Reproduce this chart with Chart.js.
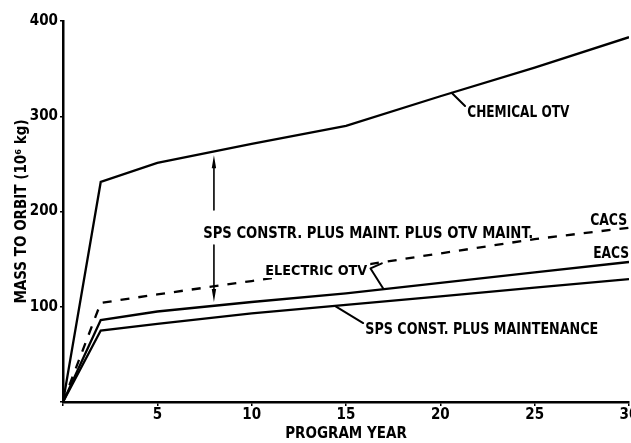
<!DOCTYPE html>
<html>
<head>
<meta charset="utf-8">
<script src="https://cdn.jsdelivr.net/npm/chart.js@4.4.1/dist/chart.umd.min.js"></script>
<style>
  html, body { margin: 0; padding: 0; background: #fff; overflow: hidden; }
  #wrap { width: 660px; height: 443px; position: relative; }
</style>
</head>
<body>
<div id="wrap"><canvas id="c" width="660" height="443"></canvas></div>
<script>
// ---- data ----
const years        = [0, 2, 5, 10, 15, 20, 25, 30];
const chemicalOTV  = [0, 231, 251, 271, 290, 321, 351, 383];
const cacs         = [0, 104, 113, 127, 141, 156, 171, 183];
const eacs         = [0, 86, 95, 105, 114, 125, 136, 147];
const spsConst     = [0, 75, 82, 93, 102, 111, 120, 129];
const xTickValues  = [5, 10, 15, 20, 25, 30];
const yTickValues  = [100, 200, 300, 400];

const FONT = '"Liberation Sans Narrow", "DejaVu Sans Condensed", "DejaVu Sans", sans-serif';
const pts = arr => years.map((x, i) => ({ x, y: arr[i] }));

function lineDs(label, arr, dash) {
  return {
    label, data: pts(arr), borderColor: '#000', borderWidth: 2.3,
    borderDash: dash || [], pointRadius: 0, tension: 0, fill: false
  };
}

// text fitted to a width, placed by its left/baseline
function fitText(ctx, text, xPx, yPx, w, size, knockout) {
  ctx.save();
  ctx.font = `bold ${size}px ${FONT}`;
  const m = ctx.measureText(text).width;
  if (knockout) {
    ctx.fillStyle = '#fff';
    ctx.fillRect(xPx - 3, yPx - size * 0.8 - 1, w + 6, size * 0.8 + 4);
  }
  ctx.translate(xPx, yPx);
  ctx.scale(w / m, 1);
  ctx.fillStyle = '#000';
  ctx.textBaseline = 'alphabetic';
  ctx.textAlign = 'left';
  ctx.fillText(text, 0, 0);
  ctx.restore();
}

const annot = {
  id: 'annot',
  afterDatasetsDraw(chart) {
    const { ctx, scales: { x, y } } = chart;
    const X = v => x.getPixelForValue(v), Y = v => y.getPixelForValue(v);
    ctx.save();
    ctx.strokeStyle = '#000';
    ctx.fillStyle = '#000';
    ctx.lineCap = 'round';
    ctx.lineJoin = 'round';

    // labels
    fitText(ctx, 'CHEMICAL OTV', X(21.43), Y(299.7), 102, 15);
    fitText(ctx, 'SPS CONSTR. PLUS MAINT. PLUS OTV MAINT.', X(7.43), Y(171.9), 330, 15);
    fitText(ctx, 'CACS', X(27.94), Y(185.8), 37, 15);
    fitText(ctx, 'EACS', X(28.1), Y(150.9), 36, 15);
    fitText(ctx, 'ELECTRIC OTV', X(10.72), Y(133.3), 102, 14, true);
    fitText(ctx, 'SPS CONST. PLUS MAINTENANCE', X(16.02), Y(71.9), 233, 15);

    // leader lines
    ctx.lineWidth = 2;
    const seg = (pairs) => {
      ctx.beginPath();
      pairs.forEach(([a, b], i) => i ? ctx.lineTo(X(a), Y(b)) : ctx.moveTo(X(a), Y(b)));
      ctx.stroke();
    };
    seg([[20.61, 324.5], [21.31, 310.8]]);
    seg([[16.9, 145.6], [16.3, 140.2], [16.97, 119.2]]);
    seg([[14.43, 100.6], [15.91, 82.9]]);

    // double-headed arrow between EACS and chemical curves
    ctx.lineWidth = 1.6;
    const ax = X(8);
    const topTip = Y(259), topEnd = Y(201.6), botStart = Y(164.8), botTip = Y(105);
    ctx.beginPath();
    ctx.moveTo(ax, topTip + 10); ctx.lineTo(ax, topEnd);
    ctx.moveTo(ax, botStart); ctx.lineTo(ax, botTip - 10);
    ctx.stroke();
    ctx.beginPath();
    ctx.moveTo(ax, topTip); ctx.lineTo(ax - 2.2, topTip + 13); ctx.lineTo(ax + 2.2, topTip + 13); ctx.closePath();
    ctx.moveTo(ax, botTip); ctx.lineTo(ax - 2.2, botTip - 13); ctx.lineTo(ax + 2.2, botTip - 13); ctx.closePath();
    ctx.fill();
    ctx.restore();
  }
};

const tickFont = { family: FONT, size: 15, weight: 'bold' };

new Chart(document.getElementById('c'), {
  type: 'line',
  data: {
    datasets: [
      lineDs('CHEMICAL OTV', chemicalOTV),
      lineDs('CACS', cacs, [9, 9]),
      lineDs('EACS', eacs),
      lineDs('SPS CONST. PLUS MAINTENANCE', spsConst)
    ]
  },
  options: {
    responsive: false,
    animation: false,
    events: [],
    layout: { padding: { top: 21, right: 31, bottom: 0, left: 0 } },
    plugins: { legend: { display: false }, tooltip: { enabled: false } },
    scales: {
      x: {
        type: 'linear', min: 0, max: 30,
        afterBuildTicks: s => { s.ticks = [0, ...xTickValues].map(v => ({ value: v })); },
        ticks: { callback: v => (v === 0 ? '' : String(v)), color: '#000', font: tickFont, padding: 0, maxRotation: 0, autoSkip: false },
        grid: { drawOnChartArea: false, drawTicks: true, tickLength: 4, color: '#000', lineWidth: 1.5 },
        border: { display: true, color: '#000', width: 2.5 },
        title: { display: true, text: 'PROGRAM YEAR', color: '#000', font: { family: FONT, size: 15, weight: 'bold' }, padding: { top: 0, bottom: 0 } },
        afterFit: s => { s.height = 41; }
      },
      y: {
        type: 'linear', min: 0, max: 400,
        afterBuildTicks: s => { s.ticks = [0, ...yTickValues].map(v => ({ value: v })); },
        ticks: { callback: v => (v === 0 ? '' : String(v)), color: '#000', font: tickFont, padding: 2 },
        grid: { drawOnChartArea: false, drawTicks: true, tickLength: 3, color: '#000', lineWidth: 1.5 },
        border: { display: true, color: '#000', width: 2.5 },
        title: { display: true, text: 'MASS TO ORBIT (10⁶ kg)', color: '#000', font: { family: FONT, size: 15, weight: 'bold' }, padding: { top: 13, bottom: 0 } },
        afterFit: s => { s.width = 63; }
      }
    }
  },
  plugins: [annot]
});
</script>
</body>
</html>
